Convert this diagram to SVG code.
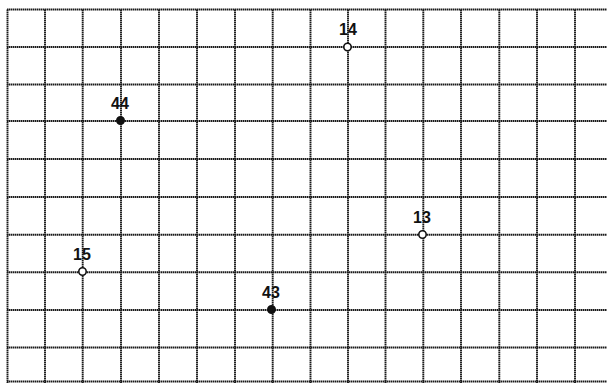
<svg xmlns="http://www.w3.org/2000/svg" width="607" height="383" viewBox="0 0 607 383">
<style>
.g line{stroke:#1a1a1a;stroke-width:1.9;stroke-dasharray:1.5 0.5}
.open{fill:#fff;stroke:#111;stroke-width:1.6}
.fill{fill:#111;stroke:#111;stroke-width:1.6}
text{font-family:"Liberation Sans",Arial,sans-serif;font-weight:bold;font-size:16px;fill:#111;text-anchor:middle}
</style>
<rect width="607" height="383" fill="#fff"/>
<g class="g" id="grid">
<line x1="7" y1="9.5" x2="607" y2="9.5"/>
<line x1="7" y1="47" x2="607" y2="47"/>
<line x1="7" y1="84.5" x2="607" y2="84.5"/>
<line x1="7" y1="121" x2="607" y2="121"/>
<line x1="7" y1="159" x2="607" y2="159"/>
<line x1="7" y1="197" x2="607" y2="197"/>
<line x1="7" y1="234.7" x2="607" y2="234.7"/>
<line x1="7" y1="272.3" x2="607" y2="272.3"/>
<line x1="7" y1="310" x2="607" y2="310"/>
<line x1="7" y1="347.5" x2="607" y2="347.5"/>
<line x1="7" y1="381.5" x2="607" y2="381.5"/>
<line x1="7.5" y1="9.5" x2="7.5" y2="383"/>
<line x1="45" y1="9.5" x2="45" y2="383"/>
<line x1="82.7" y1="9.5" x2="82.7" y2="383"/>
<line x1="121" y1="9.5" x2="121" y2="383"/>
<line x1="159" y1="9.5" x2="159" y2="383"/>
<line x1="197" y1="9.5" x2="197" y2="383"/>
<line x1="235" y1="9.5" x2="235" y2="383"/>
<line x1="272.7" y1="9.5" x2="272.7" y2="383"/>
<line x1="310.5" y1="9.5" x2="310.5" y2="383"/>
<line x1="348" y1="9.5" x2="348" y2="383"/>
<line x1="385.5" y1="9.5" x2="385.5" y2="383"/>
<line x1="423.3" y1="9.5" x2="423.3" y2="383"/>
<line x1="461" y1="9.5" x2="461" y2="383"/>
<line x1="499.3" y1="9.5" x2="499.3" y2="383"/>
<line x1="537" y1="9.5" x2="537" y2="383"/>
<line x1="575" y1="9.5" x2="575" y2="383"/>
</g>
<g id="p14"><circle class="open" cx="347.5" cy="47" r="3.7"/><text x="348" y="35">14</text></g>
<g id="p44"><circle class="fill" cx="120.5" cy="120.5" r="3.7"/><text x="120" y="109">44</text></g>
<g id="p13"><circle class="open" cx="422.5" cy="234.5" r="3.7"/><text x="422" y="223">13</text></g>
<g id="p15"><circle class="open" cx="82.5" cy="271.5" r="3.7"/><text x="82" y="260">15</text></g>
<g id="p43"><circle class="fill" cx="271.5" cy="309.5" r="3.7"/><text x="271" y="298">43</text></g>
</svg>
